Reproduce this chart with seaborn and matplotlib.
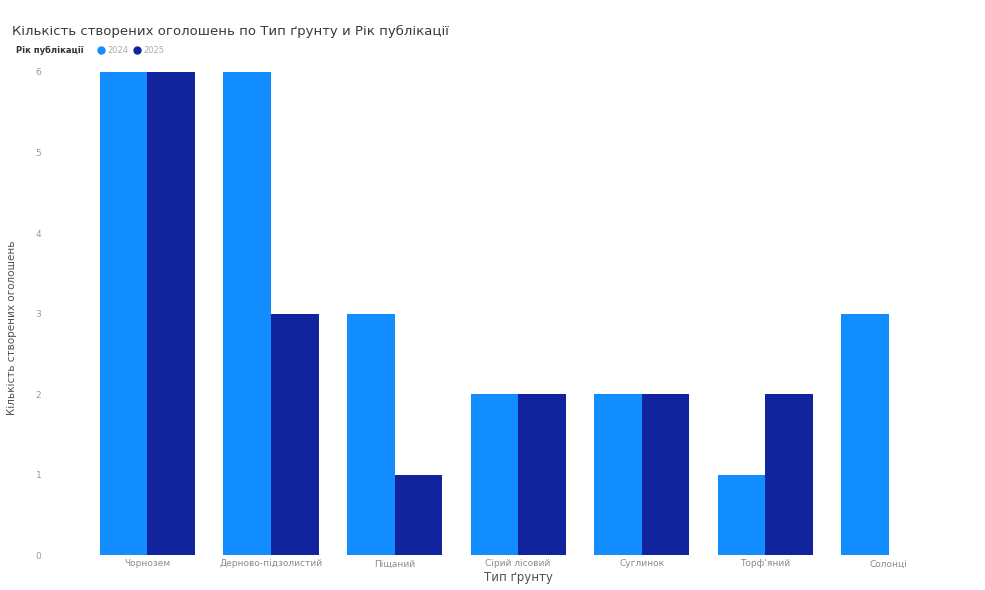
import matplotlib
matplotlib.use("Agg")
import matplotlib.pyplot as plt
from matplotlib.lines import Line2D
import seaborn as sns
import pandas as pd

# Soil types and number of created listings per publication year
soil_types = ["Чорнозем", "Дерново-підзолистий", "Піщаний", "Сірий лісовий",
              "Суглинок", "Торф'яний", "Солонці"]
years = ["2024", "2025"]
counts_2024 = [6, 6, 3, 2, 2, 1, 3]
counts_2025 = [6, 3, 1, 2, 2, 2, 0]
y_ticks = [0, 1, 2, 3, 4, 5, 6]

colors = {"2024": "#118DFF", "2025": "#12239E"}

df = pd.DataFrame({
    "Тип ґрунту": soil_types * 2,
    "Рік публікації": [years[0]] * len(soil_types) + [years[1]] * len(soil_types),
    "Кількість": counts_2024 + counts_2025,
})

sns.set_theme(style="white")
plt.rcParams["font.family"] = ["DejaVu Sans"]

fig = plt.figure(figsize=(9.85, 5.9), dpi=100)
ax = fig.add_axes([0.087, 0.059, 0.878, 0.819])

sns.barplot(data=df, x="Тип ґрунту", y="Кількість", hue="Рік публікації",
            palette=colors, width=0.77, gap=0, saturation=1, ax=ax,
            legend=False, errorbar=None, linewidth=0, edgecolor="none")

ax.set_ylim(0, 6)
ax.set_xlim(-0.5, len(soil_types) - 0.5)
ax.set_yticks(y_ticks)
ax.set_yticklabels([str(t) for t in y_ticks], fontsize=6.5, color="#9a9a9a")
ax.tick_params(axis="y", length=0, pad=32)
ax.tick_params(axis="x", length=0, pad=3, labelsize=6.5, labelcolor="#8a8a8a")
ax.set_xlabel("Тип ґрунту", fontsize=8.5, color="#505050", labelpad=2)
ax.set_ylabel("Кількість створених оголошень", fontsize=7.5, color="#505050")
ax.yaxis.set_label_coords(-0.079, 0.47)
for s in ax.spines.values():
    s.set_visible(False)

fig.text(0.012, 0.947, "Кількість створених оголошень по Тип ґрунту и Рік публікації",
         fontsize=9.5, color="#3a3a3a", va="center", ha="left")
fig.text(0.016, 0.915, "Рік публікації", fontsize=6, color="#333333",
         va="center", ha="left", fontweight="bold")

handles = [Line2D([], [], marker="o", linestyle="none", markersize=5,
                  markerfacecolor=colors[y], markeredgecolor=colors[y])
           for y in years]
leg = fig.legend(handles, years, loc="center left", bbox_to_anchor=(0.096, 0.915),
                 ncol=2, frameon=False, fontsize=6, handletextpad=0.4,
                 columnspacing=0.8, borderpad=0, handlelength=0.6)
for t in leg.get_texts():
    t.set_color("#aaaaaa")

fig.savefig("out.png", dpi=100)
